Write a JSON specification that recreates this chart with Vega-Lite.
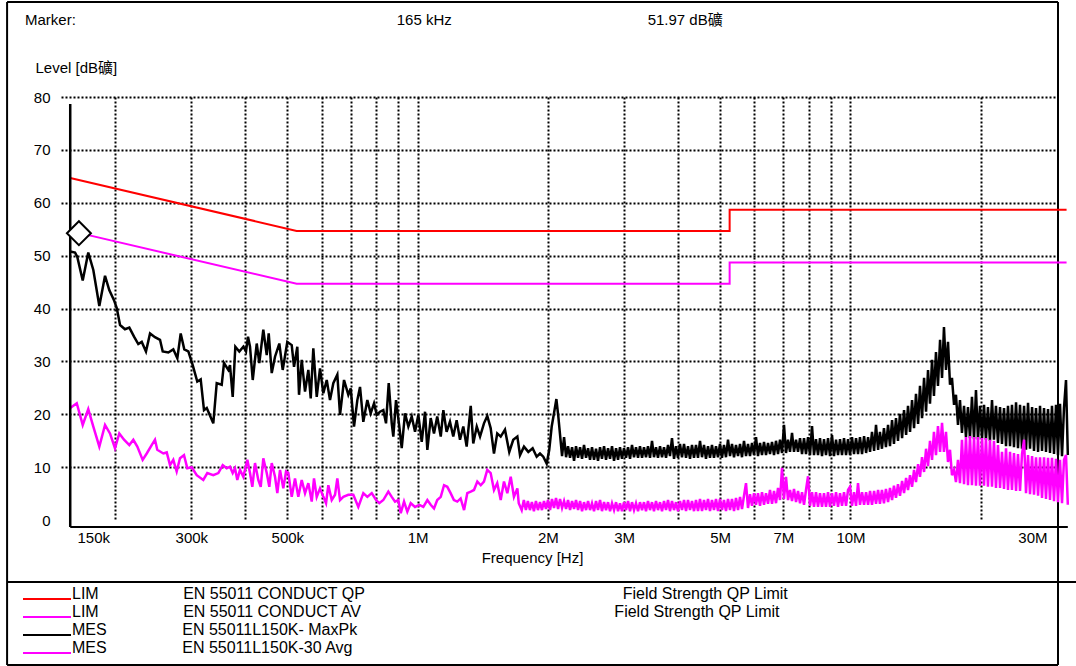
{
"$schema": "https://vega.github.io/schema/vega-lite/v6.json",
"width": 996,
"height": 423,
"autosize": "none",
"padding": {"left": 61, "top": 97, "right": 19, "bottom": 146},
"background": "white",
"config": {
  "font": "Liberation Sans, Arial, Noto Sans CJK SC, sans-serif",
  "view": {"stroke": null},
  "axis": {"labelColor": "black", "titleColor": "black", "labelFont": "Liberation Sans, Noto Sans CJK SC", "titleFont": "Liberation Sans, Noto Sans CJK SC"},
  "legend": {"labelColor": "black", "labelFont": "Liberation Sans, Noto Sans CJK SC"}
},
"title": {"text": "Marker:\u00a0\u00a0\u00a0\u00a0\u00a0\u00a0\u00a0\u00a0\u00a0\u00a0\u00a0\u00a0\u00a0\u00a0\u00a0\u00a0\u00a0\u00a0\u00a0\u00a0\u00a0\u00a0\u00a0\u00a0\u00a0\u00a0\u00a0\u00a0\u00a0\u00a0\u00a0\u00a0\u00a0\u00a0\u00a0\u00a0\u00a0\u00a0\u00a0\u00a0\u00a0\u00a0\u00a0\u00a0\u00a0\u00a0\u00a0\u00a0\u00a0\u00a0\u00a0\u00a0\u00a0\u00a0\u00a0\u00a0\u00a0\u00a0\u00a0\u00a0\u00a0\u00a0\u00a0\u00a0\u00a0\u00a0\u00a0\u00a0\u00a0\u00a0\u00a0\u00a0\u00a0\u00a0\u00a0\u00a0\u00a0165 kHz\u00a0\u00a0\u00a0\u00a0\u00a0\u00a0\u00a0\u00a0\u00a0\u00a0\u00a0\u00a0\u00a0\u00a0\u00a0\u00a0\u00a0\u00a0\u00a0\u00a0\u00a0\u00a0\u00a0\u00a0\u00a0\u00a0\u00a0\u00a0\u00a0\u00a0\u00a0\u00a0\u00a0\u00a0\u00a0\u00a0\u00a0\u00a0\u00a0\u00a0\u00a0\u00a0\u00a0\u00a0\u00a0\u00a0\u00a051.97 dB礦", "anchor": "start", "frame": "group", "dx": -36, "offset": -27, "fontSize": 15, "fontWeight": "normal", "color": "black"},
"datasets": {
  "qp": [{"f":150000,"v":66},{"f":500000,"v":56},{"f":5000000,"v":56},{"f":5000000,"v":60},{"f":30000000,"v":60}],
  "av": [{"f":150000,"v":56},{"f":500000,"v":46},{"f":5000000,"v":46},{"f":5000000,"v":50},{"f":30000000,"v":50}],
  "marker": [{"f":165000,"v":51.97}],
  "pk": [
{"f":150000,"v":52.1},{"f":153900,"v":51.9},{"f":155700,"v":51.1},{"f":160300,"v":46.6},{"f":165100,"v":51.9},{"f":169600,"v":48.6},{"f":175100,"v":41.8},{"f":180500,"v":47.5},{"f":184600,"v":44.8},{"f":189300,"v":42.9},{"f":192100,"v":41.4},{"f":195500,"v":38.2},{"f":200700,"v":37.4},{"f":205400,"v":37.7},{"f":210600,"v":36.0},{"f":215400,"v":34.6},{"f":219400,"v":35.0},{"f":224400,"v":33.2},{"f":229300,"v":36.6},{"f":235400,"v":35.9},{"f":241800,"v":35.4},{"f":245300,"v":33.2},{"f":252700,"v":33.0},{"f":259500,"v":33.6},{"f":265100,"v":31.9},{"f":269900,"v":36.6},{"f":275100,"v":33.6},{"f":281100,"v":33.2},{"f":287700,"v":30.6},{"f":294800,"v":27.5},{"f":300200,"v":27.9},{"f":305500,"v":22.1},{"f":310000,"v":22.5},{"f":321000,"v":19.6},{"f":326900,"v":27.2},{"f":335700,"v":26.9},{"f":339800,"v":31.0},{"f":347700,"v":29.7},{"f":350800,"v":30.6},{"f":355900,"v":24.6},{"f":360900,"v":34.1},{"f":368600,"v":33.2},{"f":376600,"v":34.1},{"f":382000,"v":33.2},{"f":386100,"v":36.0},{"f":390200,"v":34.1},{"f":395900,"v":27.8},{"f":404400,"v":34.7},{"f":410000,"v":31.0},{"f":418800,"v":37.3},{"f":426500,"v":32.5},{"f":431000,"v":36.6},{"f":438000,"v":29.1},{"f":445700,"v":32.2},{"f":456000,"v":34.7},{"f":464300,"v":29.7},{"f":475800,"v":35.0},{"f":487100,"v":34.4},{"f":493100,"v":30.3},{"f":501800,"v":34.1},{"f":506400,"v":25.0},{"f":513700,"v":31.6},{"f":522800,"v":25.6},{"f":532100,"v":29.7},{"f":538900,"v":24.3},{"f":546400,"v":33.8},{"f":556400,"v":24.6},{"f":566200,"v":30.0},{"f":576300,"v":25.3},{"f":586800,"v":27.8},{"f":597100,"v":24.0},{"f":607700,"v":27.2},{"f":620800,"v":28.8},{"f":629800,"v":21.2},{"f":643300,"v":27.8},{"f":658200,"v":25.0},{"f":666600,"v":26.2},{"f":678400,"v":19.0},{"f":690500,"v":24.0},{"f":700400,"v":26.5},{"f":712800,"v":19.9},{"f":728200,"v":24.0},{"f":741400,"v":21.5},{"f":754600,"v":23.4},{"f":765500,"v":21.2},{"f":779000,"v":21.8},{"f":792800,"v":22.1},{"f":804300,"v":19.6},{"f":815900,"v":27.2},{"f":829100,"v":19.6},{"f":836100,"v":17.1},{"f":848200,"v":24.0},{"f":863200,"v":19.0},{"f":874300,"v":14.9},{"f":889800,"v":21.5},{"f":905600,"v":19.0},{"f":922100,"v":20.9},{"f":938400,"v":18.0},{"f":955000,"v":21.2},{"f":972500,"v":16.1},{"f":989700,"v":21.8},
{"f":1002000,"v":14.6},{"f":1020000,"v":20.6},{"f":1038000,"v":17.7},{"f":1056000,"v":20.9},{"f":1076000,"v":17.1},{"f":1091000,"v":22.1},{"f":1110000,"v":18.0},{"f":1130000,"v":19.9},{"f":1150000,"v":17.1},{"f":1171000,"v":20.2},{"f":1192000,"v":16.5},{"f":1213000,"v":19.0},{"f":1235000,"v":15.2},{"f":1262000,"v":22.9},{"f":1279000,"v":15.8},{"f":1303000,"v":19.0},{"f":1326000,"v":17.1},{"f":1354000,"v":19.6},{"f":1378000,"v":21.0},{"f":1403000,"v":18.7},{"f":1428000,"v":13.9},{"f":1453000,"v":17.7},{"f":1480000,"v":17.1},{"f":1514000,"v":18.4},{"f":1549000,"v":14.2},{"f":1582000,"v":16.5},{"f":1617000,"v":17.1},{"f":1640000,"v":13.6},{"f":1675000,"v":15.2},{"f":1714000,"v":14.2},{"f":1754000,"v":14.9},{"f":1792000,"v":13.3},{"f":1824000,"v":13.9},{"f":1856000,"v":13.3},{"f":1890000,"v":12.0},{"f":1916000,"v":14.6},{"f":1941000,"v":19.0},{"f":1965000,"v":21.5},{"f":1990000,"v":24.2},{"f":2010000,"v":21.0},
{"f":2051000,"v":13.4},{"f":2073000,"v":17.0},{"f":2095000,"v":13.2},{"f":2117000,"v":15.3},{"f":2140000,"v":13.1},{"f":2163000,"v":15.1},{"f":2186000,"v":12.5},{"f":2209000,"v":15.3},{"f":2233000,"v":13.1},{"f":2257000,"v":15.1},{"f":2281000,"v":12.9},{"f":2305000,"v":15.5},{"f":2330000,"v":13.1},{"f":2355000,"v":14.9},{"f":2380000,"v":12.7},{"f":2405000,"v":15.1},{"f":2431000,"v":12.7},{"f":2457000,"v":14.8},{"f":2483000,"v":12.5},{"f":2510000,"v":15.1},{"f":2536000,"v":12.9},{"f":2564000,"v":15.3},{"f":2591000,"v":12.7},{"f":2619000,"v":14.9},{"f":2647000,"v":12.9},{"f":2675000,"v":15.3},{"f":2704000,"v":12.5},{"f":2733000,"v":14.9},{"f":2762000,"v":12.7},{"f":2791000,"v":15.1},{"f":2821000,"v":12.9},{"f":2851000,"v":14.9},{"f":2882000,"v":13.1},{"f":2913000,"v":15.1},{"f":2944000,"v":12.9},{"f":2975000,"v":15.5},{"f":3007000,"v":13.2},{"f":3039000,"v":15.1},{"f":3072000,"v":13.1},{"f":3104000,"v":15.3},{"f":3138000,"v":13.1},{"f":3171000,"v":15.1},{"f":3205000,"v":13.2},{"f":3239000,"v":15.3},{"f":3274000,"v":13.1},{"f":3309000,"v":16.3},{"f":3344000,"v":13.2},{"f":3380000,"v":15.1},{"f":3416000,"v":13.1},{"f":3453000,"v":15.3},{"f":3490000,"v":13.2},{"f":3527000,"v":15.1},{"f":3565000,"v":13.1},{"f":3603000,"v":15.5},{"f":3641000,"v":13.4},{"f":3680000,"v":16.8},{"f":3720000,"v":12.9},{"f":3759000,"v":15.3},{"f":3799000,"v":13.1},
{"f":3840000,"v":15.7},{"f":3881000,"v":13.2},{"f":3923000,"v":15.7},{"f":3965000,"v":13.1},{"f":4007000,"v":15.3},{"f":4050000,"v":12.9},{"f":4093000,"v":15.5},{"f":4137000,"v":13.1},{"f":4181000,"v":15.5},{"f":4226000,"v":13.1},{"f":4271000,"v":16.3},{"f":4317000,"v":13.2},{"f":4363000,"v":15.5},{"f":4409000,"v":12.9},{"f":4457000,"v":15.3},{"f":4504000,"v":13.1},{"f":4552000,"v":15.5},{"f":4601000,"v":13.1},{"f":4650000,"v":15.3},{"f":4700000,"v":13.2},{"f":4750000,"v":15.7},{"f":4801000,"v":13.1},{"f":4852000,"v":15.5},{"f":4904000,"v":13.2},{"f":4957000,"v":16.5},{"f":5010000,"v":13.4},{"f":5063000,"v":15.7},{"f":5118000,"v":13.2},{"f":5172000,"v":15.5},{"f":5228000,"v":13.4},{"f":5284000,"v":15.7},{"f":5340000,"v":13.2},{"f":5397000,"v":16.3},{"f":5455000,"v":13.4},{"f":5513000,"v":15.7},{"f":5572000,"v":13.4},{"f":5632000,"v":15.9},{"f":5692000,"v":13.6},{"f":5753000,"v":17.0},{"f":5814000,"v":13.4},{"f":5877000,"v":15.9},{"f":5939000,"v":13.6},{"f":6003000,"v":16.1},{"f":6067000,"v":13.6},{"f":6132000,"v":15.9},{"f":6197000,"v":13.8},{"f":6264000,"v":16.1},{"f":6331000,"v":13.6},{"f":6398000,"v":16.3},{"f":6467000,"v":13.8},{"f":6536000,"v":16.5},{"f":6606000,"v":14.0},{"f":6676000,"v":19.3},{"f":6748000,"v":14.0},{"f":6820000,"v":16.5},{"f":6893000,"v":14.2},{"f":6967000,"v":17.8},{"f":7041000,"v":14.2},{"f":7117000,"v":16.5},{"f":7193000,"v":14.2},
{"f":7270000,"v":16.8},{"f":7348000,"v":13.8},{"f":7426000,"v":16.8},{"f":7505000,"v":13.8},{"f":7586000,"v":17.0},{"f":7667000,"v":13.6},{"f":7749000,"v":19.1},{"f":7831000,"v":13.6},{"f":7915000,"v":16.6},{"f":8000000,"v":13.6},{"f":8085000,"v":16.8},{"f":8172000,"v":13.4},{"f":8259000,"v":16.6},{"f":8347000,"v":13.6},{"f":8437000,"v":16.8},{"f":8527000,"v":13.4},{"f":8618000,"v":17.4},{"f":8710000,"v":13.4},{"f":8804000,"v":16.5},{"f":8898000,"v":13.6},{"f":8993000,"v":16.6},{"f":9089000,"v":13.6},{"f":9186000,"v":16.8},{"f":9285000,"v":13.6},{"f":9384000,"v":16.6},{"f":9484000,"v":13.6},{"f":9585000,"v":17.0},{"f":9688000,"v":13.8},{"f":9792000,"v":16.8},{"f":9896000,"v":13.8},{"f":10000000,"v":17.0},{"f":10110000,"v":13.8},{"f":10220000,"v":17.2},{"f":10330000,"v":14.0},{"f":10440000,"v":17.0},{"f":10550000,"v":14.2},{"f":10660000,"v":18.0},{"f":10780000,"v":14.4},{"f":10890000,"v":19.3},{"f":11010000,"v":14.6},{"f":11120000,"v":18.0},{"f":11240000,"v":14.8},{"f":11360000,"v":18.7},{"f":11480000,"v":15.1},{"f":11610000,"v":19.3},{"f":11730000,"v":15.3},{"f":11860000,"v":20.2},{"f":11980000,"v":15.7},{"f":12110000,"v":20.6},{"f":12240000,"v":16.3},{"f":12370000,"v":21.4},{"f":12510000,"v":16.8},{"f":12640000,"v":22.1},{"f":12780000,"v":17.4},{"f":12910000,"v":22.9},{"f":13050000,"v":18.0},{"f":13190000,"v":24.0},{"f":13330000,"v":18.7},{"f":13470000,"v":25.2},{"f":13620000,"v":19.5},{"f":13760000,"v":26.7},{"f":13910000,"v":20.6},{"f":14060000,"v":28.2},{"f":14210000,"v":21.8},{"f":14360000,"v":29.7},{"f":14510000,"v":23.3},{"f":14670000,"v":31.6},{"f":14820000,"v":24.8},{"f":14980000,"v":33.1},{"f":15140000,"v":26.7},{"f":15310000,"v":35.4},{"f":15470000,"v":28.2},{"f":15630000,"v":37.8},{"f":15800000,"v":29.7},{"f":15970000,"v":35.0},{"f":16140000,"v":26.9},{"f":16310000,"v":28.2},{"f":16490000,"v":23.1},{"f":16660000,"v":25.0},{"f":16840000,"v":19.3},{"f":17020000,"v":24.0},{"f":17200000,"v":17.8},{"f":17390000,"v":22.9},{"f":17570000,"v":17.0},{"f":17760000,"v":22.7},{"f":17950000,"v":16.8},{"f":18140000,"v":24.6},{"f":18340000,"v":16.6},{"f":18530000,"v":25.9},{"f":18730000,"v":16.5},{"f":18930000,"v":22.9},{"f":19140000,"v":16.8},{"f":19340000,"v":23.1},{"f":19540000,"v":16.5},{"f":19750000,"v":22.7},{"f":19960000,"v":16.3},{"f":20180000,"v":24.0},{"f":20390000,"v":16.5},{"f":20610000,"v":22.9},{"f":20830000,"v":15.9},{"f":21060000,"v":22.7},{"f":21280000,"v":15.7},{"f":21510000,"v":22.5},{"f":21740000,"v":15.3},{"f":21970000,"v":22.9},{"f":22210000,"v":15.3},{"f":22440000,"v":23.1},{"f":22680000,"v":15.1},{"f":22930000,"v":23.6},{"f":23170000,"v":14.9},{"f":23420000,"v":23.1},{"f":23670000,"v":14.8},{"f":23930000,"v":22.9},{"f":24180000,"v":14.6},{"f":24440000,"v":23.5},{"f":24700000,"v":14.8},{"f":24970000,"v":22.7},{"f":25230000,"v":14.4},{"f":25500000,"v":22.5},{"f":25780000,"v":14.2},{"f":26050000,"v":22.9},{"f":26330000,"v":14.4},{"f":26610000,"v":22.5},{"f":26890000,"v":14.2},{"f":27180000,"v":22.3},{"f":27470000,"v":14.0},{"f":27760000,"v":22.9},{"f":28060000,"v":13.8},{"f":28360000,"v":23.1},{"f":28660000,"v":13.6},{"f":28970000,"v":23.3},{"f":29280000,"v":13.4},{"f":29590000,"v":22.5},{"f":29910000,"v":27.8},{"f":30200000,"v":13.6}
  ],
  "avg": [
{"f":150000,"v":22.5},{"f":155300,"v":23.4},{"f":160300,"v":19.3},{"f":165100,"v":22.3},{"f":169600,"v":19.0},{"f":175100,"v":15.2},{"f":180500,"v":19.3},{"f":185300,"v":17.7},{"f":190300,"v":14.9},{"f":194700,"v":17.7},{"f":199700,"v":16.5},{"f":205400,"v":15.5},{"f":209800,"v":16.5},{"f":214300,"v":15.2},{"f":220500,"v":12.7},{"f":225300,"v":13.9},{"f":231300,"v":15.5},{"f":235400,"v":16.5},{"f":238300,"v":14.6},{"f":246100,"v":13.9},{"f":250600,"v":14.1},{"f":255000,"v":11.7},{"f":259500,"v":12.7},{"f":264200,"v":10.5},{"f":268900,"v":13.0},{"f":274700,"v":13.6},{"f":279600,"v":11.1},{"f":286200,"v":11.3},{"f":293900,"v":9.8},{"f":304400,"v":8.9},{"f":310900,"v":10.2},{"f":321000,"v":9.8},{"f":329700,"v":10.2},{"f":337500,"v":11.7},{"f":344700,"v":11.1},{"f":350800,"v":11.4},{"f":355900,"v":10.2},{"f":360300,"v":11.1},{"f":364700,"v":8.9},{"f":370000,"v":10.8},{"f":376600,"v":9.5},{"f":384700,"v":12.7},{"f":390200,"v":10.2},{"f":395000,"v":7.6},{"f":400700,"v":12.1},{"f":407800,"v":8.9},{"f":413100,"v":7.6},{"f":418800,"v":13.0},{"f":426500,"v":10.2},{"f":432400,"v":7.6},{"f":438000,"v":12.1},{"f":445700,"v":9.5},{"f":451200,"v":6.4},{"f":457700,"v":10.8},{"f":465800,"v":7.3},{"f":472600,"v":10.5},{"f":478400,"v":10.2},{"f":487100,"v":5.7},{"f":495700,"v":9.2},{"f":504500,"v":5.7},{"f":513700,"v":8.9},{"f":522800,"v":6.4},{"f":532100,"v":8.3},{"f":541800,"v":4.8},{"f":548400,"v":9.2},{"f":556400,"v":5.7},{"f":566200,"v":7.3},{"f":576300,"v":5.7},{"f":584600,"v":4.5},{"f":591800,"v":7.9},{"f":602600,"v":5.1},{"f":613300,"v":6.1},{"f":620800,"v":9.2},{"f":629800,"v":5.1},{"f":640900,"v":5.7},{"f":658200,"v":6.1},{"f":675900,"v":6.1},{"f":694100,"v":3.8},{"f":712800,"v":6.4},{"f":728200,"v":5.7},{"f":745400,"v":6.4},{"f":762700,"v":5.1},{"f":776100,"v":4.5},{"f":792800,"v":5.1},{"f":814200,"v":6.7},{"f":829100,"v":5.7},{"f":843700,"v":4.8},{"f":858700,"v":5.1},{"f":869700,"v":2.6},{"f":885100,"v":4.8},{"f":900800,"v":2.9},{"f":917200,"v":4.5},{"f":938400,"v":3.8},{"f":960100,"v":4.2},{"f":980800,"v":3.8},
{"f":1002000,"v":5.1},{"f":1020000,"v":4.2},{"f":1038000,"v":3.5},{"f":1056000,"v":5.1},{"f":1076000,"v":5.7},{"f":1095000,"v":7.9},{"f":1114000,"v":7.6},{"f":1134000,"v":6.4},{"f":1154000,"v":5.1},{"f":1175000,"v":4.8},{"f":1196000,"v":5.4},{"f":1218000,"v":3.2},{"f":1239000,"v":6.4},{"f":1262000,"v":6.7},{"f":1284000,"v":7.0},{"f":1307000,"v":8.6},{"f":1331000,"v":7.9},{"f":1354000,"v":8.6},{"f":1378000,"v":10.8},{"f":1403000,"v":10.2},{"f":1428000,"v":7.0},{"f":1453000,"v":8.3},{"f":1480000,"v":5.1},{"f":1506000,"v":8.6},{"f":1533000,"v":6.4},{"f":1561000,"v":9.5},{"f":1588000,"v":5.7},{"f":1617000,"v":7.3},{"f":1629000,"v":4.5},{"f":1655000,"v":3.2},
{"f":1674000,"v":5.1},{"f":1692000,"v":3.2},{"f":1710000,"v":4.9},{"f":1729000,"v":3.2},{"f":1747000,"v":4.7},{"f":1766000,"v":3.0},{"f":1785000,"v":4.9},{"f":1804000,"v":3.2},{"f":1824000,"v":4.7},{"f":1843000,"v":3.2},{"f":1863000,"v":4.9},{"f":1883000,"v":3.4},{"f":1903000,"v":5.1},{"f":1924000,"v":3.2},{"f":1944000,"v":5.3},{"f":1965000,"v":3.6},{"f":1986000,"v":5.5},{"f":2008000,"v":3.4},{"f":2029000,"v":5.3},{"f":2051000,"v":3.6},{"f":2073000,"v":4.9},{"f":2095000,"v":3.4},{"f":2117000,"v":5.1},{"f":2140000,"v":3.2},{"f":2163000,"v":4.9},{"f":2186000,"v":3.4},{"f":2209000,"v":5.1},{"f":2233000,"v":3.2},{"f":2257000,"v":4.9},{"f":2281000,"v":3.0},{"f":2305000,"v":4.7},{"f":2330000,"v":3.2},{"f":2355000,"v":4.9},{"f":2380000,"v":3.2},{"f":2405000,"v":4.5},{"f":2431000,"v":3.0},{"f":2457000,"v":4.9},{"f":2483000,"v":3.2},{"f":2510000,"v":5.1},{"f":2536000,"v":3.0},{"f":2564000,"v":4.7},{"f":2591000,"v":3.2},{"f":2619000,"v":4.7},{"f":2647000,"v":3.0},{"f":2675000,"v":4.5},{"f":2704000,"v":3.2},{"f":2733000,"v":4.7},{"f":2762000,"v":3.0},{"f":2791000,"v":4.5},{"f":2821000,"v":3.0},{"f":2851000,"v":4.7},{"f":2882000,"v":3.2},{"f":2913000,"v":4.9},{"f":2944000,"v":3.0},{"f":2975000,"v":4.7},{"f":3007000,"v":3.2},{"f":3039000,"v":4.5},{"f":3072000,"v":3.0},{"f":3104000,"v":4.7},{"f":3138000,"v":3.2},{"f":3171000,"v":4.7},{"f":3205000,"v":3.0},{"f":3239000,"v":4.9},{"f":3274000,"v":3.2},{"f":3309000,"v":4.7},{"f":3344000,"v":3.0},{"f":3380000,"v":4.9},{"f":3416000,"v":3.2},{"f":3453000,"v":4.7},{"f":3490000,"v":3.0},{"f":3527000,"v":4.9},{"f":3565000,"v":3.2},{"f":3603000,"v":5.1},{"f":3641000,"v":3.0},{"f":3680000,"v":4.9},{"f":3720000,"v":3.2},{"f":3759000,"v":4.7},{"f":3799000,"v":3.0},
{"f":3840000,"v":4.9},{"f":3881000,"v":3.2},{"f":3923000,"v":5.1},{"f":3965000,"v":3.0},{"f":4007000,"v":5.1},{"f":4050000,"v":3.2},{"f":4093000,"v":4.9},{"f":4137000,"v":3.0},{"f":4181000,"v":5.1},{"f":4226000,"v":3.0},{"f":4271000,"v":5.3},{"f":4317000,"v":3.0},{"f":4363000,"v":5.1},{"f":4409000,"v":3.2},{"f":4457000,"v":5.3},{"f":4504000,"v":3.0},{"f":4552000,"v":5.1},{"f":4601000,"v":3.2},{"f":4650000,"v":5.3},{"f":4700000,"v":3.0},{"f":4750000,"v":5.3},{"f":4801000,"v":3.2},{"f":4852000,"v":5.1},{"f":4904000,"v":3.0},{"f":4957000,"v":5.3},{"f":5010000,"v":3.2},{"f":5063000,"v":5.3},{"f":5118000,"v":3.0},{"f":5172000,"v":5.5},{"f":5228000,"v":3.2},{"f":5284000,"v":5.7},{"f":5340000,"v":3.4},{"f":5397000,"v":5.9},{"f":5455000,"v":8.3},{"f":5513000,"v":3.6},{"f":5572000,"v":6.2},{"f":5632000,"v":4.0},{"f":5692000,"v":6.4},{"f":5753000,"v":4.2},{"f":5814000,"v":6.4},{"f":5877000,"v":4.0},{"f":5939000,"v":6.6},{"f":6003000,"v":4.2},{"f":6067000,"v":6.4},{"f":6132000,"v":4.4},{"f":6197000,"v":7.0},{"f":6264000,"v":4.4},{"f":6331000,"v":6.8},{"f":6398000,"v":4.5},{"f":6467000,"v":7.4},{"f":6536000,"v":5.1},{"f":6606000,"v":11.2},{"f":6676000,"v":5.3},{"f":6748000,"v":9.5},{"f":6820000,"v":5.1},{"f":6893000,"v":7.0},{"f":6967000,"v":4.9},{"f":7041000,"v":7.2},{"f":7117000,"v":4.7},{"f":7193000,"v":6.8},
{"f":7270000,"v":4.5},{"f":7348000,"v":6.6},{"f":7426000,"v":4.2},{"f":7505000,"v":7.0},{"f":7586000,"v":9.6},{"f":7667000,"v":4.0},{"f":7749000,"v":6.6},{"f":7831000,"v":3.8},{"f":7915000,"v":6.6},{"f":8000000,"v":3.8},{"f":8085000,"v":6.4},{"f":8172000,"v":3.8},{"f":8259000,"v":6.4},{"f":8347000,"v":3.8},{"f":8437000,"v":6.6},{"f":8527000,"v":3.8},{"f":8618000,"v":6.4},{"f":8710000,"v":4.0},{"f":8804000,"v":6.6},{"f":8898000,"v":3.8},{"f":8993000,"v":6.4},{"f":9089000,"v":4.0},{"f":9186000,"v":6.6},{"f":9285000,"v":4.0},{"f":9384000,"v":7.0},{"f":9484000,"v":7.6},{"f":9585000,"v":4.0},{"f":9688000,"v":6.6},{"f":9792000,"v":4.0},{"f":9896000,"v":8.3},{"f":10000000,"v":4.2},{"f":10110000,"v":6.6},{"f":10220000,"v":4.2},{"f":10330000,"v":6.6},{"f":10440000,"v":4.2},{"f":10550000,"v":6.8},{"f":10660000,"v":4.2},{"f":10780000,"v":6.8},{"f":10890000,"v":4.4},{"f":11010000,"v":7.0},{"f":11120000,"v":4.4},{"f":11240000,"v":7.0},{"f":11360000,"v":4.5},{"f":11480000,"v":7.2},{"f":11610000,"v":4.7},{"f":11730000,"v":7.4},{"f":11860000,"v":5.1},{"f":11980000,"v":7.8},{"f":12110000,"v":5.5},{"f":12240000,"v":8.1},{"f":12370000,"v":5.9},{"f":12510000,"v":8.7},{"f":12640000,"v":6.4},{"f":12780000,"v":9.3},{"f":12910000,"v":7.0},{"f":13050000,"v":9.8},{"f":13190000,"v":7.6},{"f":13330000,"v":10.8},{"f":13470000,"v":8.5},{"f":13620000,"v":11.9},{"f":13760000,"v":9.5},{"f":13910000,"v":13.2},{"f":14060000,"v":10.4},{"f":14210000,"v":14.8},{"f":14360000,"v":11.5},{"f":14510000,"v":16.3},{"f":14670000,"v":12.7},{"f":14820000,"v":18.0},{"f":14980000,"v":13.6},{"f":15140000,"v":19.1},{"f":15310000,"v":14.2},{"f":15470000,"v":19.7},{"f":15630000,"v":14.2},{"f":15800000,"v":18.0},{"f":15970000,"v":12.3},{"f":16140000,"v":14.6},{"f":16310000,"v":9.8},{"f":16490000,"v":10.8},{"f":16660000,"v":8.5},{"f":16840000,"v":12.7},{"f":17020000,"v":8.3},{"f":17200000,"v":16.5},{"f":17390000,"v":8.1},{"f":17570000,"v":17.0},{"f":17760000,"v":7.9},{"f":17950000,"v":17.2},{"f":18140000,"v":7.9},{"f":18340000,"v":17.0},{"f":18530000,"v":7.8},{"f":18730000,"v":17.0},{"f":18930000,"v":7.8},{"f":19140000,"v":16.8},{"f":19340000,"v":7.8},{"f":19540000,"v":16.8},{"f":19750000,"v":7.6},{"f":19960000,"v":16.5},{"f":20180000,"v":7.6},{"f":20390000,"v":16.3},{"f":20610000,"v":7.4},{"f":20830000,"v":15.5},{"f":21060000,"v":7.4},{"f":21280000,"v":14.2},{"f":21510000,"v":7.2},{"f":21740000,"v":14.9},{"f":21970000,"v":7.0},{"f":22210000,"v":14.2},{"f":22440000,"v":7.0},{"f":22680000,"v":14.0},{"f":22930000,"v":6.8},{"f":23170000,"v":13.8},{"f":23420000,"v":6.8},{"f":23670000,"v":13.8},{"f":23930000,"v":16.5},{"f":24180000,"v":6.4},{"f":24440000,"v":13.6},{"f":24700000,"v":6.2},{"f":24970000,"v":13.4},{"f":25230000,"v":6.1},{"f":25500000,"v":13.2},{"f":25780000,"v":5.9},{"f":26050000,"v":13.2},{"f":26330000,"v":5.5},{"f":26610000,"v":13.2},{"f":26890000,"v":5.3},{"f":27180000,"v":13.1},{"f":27470000,"v":5.1},{"f":27760000,"v":13.1},{"f":28060000,"v":4.9},{"f":28360000,"v":12.9},{"f":28660000,"v":4.7},{"f":28970000,"v":12.7},{"f":29280000,"v":4.5},{"f":29590000,"v":12.7},{"f":29910000,"v":13.6},{"f":30200000,"v":4.2}
  ]
},
"layer": [
  {
    "data": {"values": [{}]},
    "layer": [
      {"mark": {"type": "rule", "color": "black", "strokeWidth": 2},
       "encoding": {
         "x": {"datum": 112600, "type": "quantitative",
               "scale": {"type": "log", "domain": [150000, 30000000], "nice": false},
               "axis": {"values": [150000,200000,300000,400000,500000,600000,700000,800000,900000,1000000,2000000,3000000,4000000,5000000,6000000,7000000,8000000,9000000,10000000,20000000,30000000],
                        "labelExpr": "indexof([150000,300000,500000,1000000,2000000,3000000,5000000,7000000,10000000,30000000], datum.value) >= 0 ? (datum.value >= 1000000 ? (datum.value / 1000000) + 'M' : (datum.value / 1000) + 'k') : ''",
                        "labelOverlap": false, "labelFontSize": 15, "labelPadding": 10, "labelFlush": true,
                        "labelOffset": {"condition": [{"test": "datum.value == 150000", "value": 16}, {"test": "datum.value == 30000000", "value": -10}], "value": 0},
                        "domain": false, "ticks": false,
                        "grid": true, "gridColor": "black", "gridDash": [2, 2], "gridWidth": 2,
                        "gridOpacity": {"condition": {"test": "datum.value < 160000 || datum.value > 29000000", "value": 0}, "value": 1},
                        "title": "Frequency [Hz]", "titleFontSize": 15, "titleFontWeight": "normal", "titleX": 471, "titleY": 37, "titleBaseline": "middle", "titleAlign": "center"}},
         "y": {"datum": -27.42, "type": "quantitative",
               "scale": {"domain": [0, 80], "nice": false, "zero": false},
               "axis": {"values": [0,10,20,30,40,50,60,70,80], "labelFontSize": 15, "labelPadding": 11,
                        "domain": false, "ticks": false,
                        "grid": true, "gridColor": "black", "gridDash": [2, 2], "gridWidth": 2,
                        "gridOpacity": {"condition": {"test": "datum.value == 0", "value": 0}, "value": 1},
                        "title": "Level [dB礦]", "titleFontSize": 15, "titleFontWeight": "normal", "titleAngle": 0, "titleAlign": "left", "titleBaseline": "middle", "titleX": -26, "titleY": -30}},
         "y2": {"datum": 97.97}
       }},
      {"mark": {"type": "rule", "color": "black", "strokeWidth": 2},
       "encoding": {"x": {"datum": 30160000, "type": "quantitative"}, "y": {"datum": -27.42, "type": "quantitative"}, "y2": {"datum": 97.97}}},
      {"mark": {"type": "rule", "color": "black", "strokeWidth": 2},
       "encoding": {"x": {"datum": 112600, "type": "quantitative"}, "x2": {"datum": 30160000}, "y": {"datum": 97.97, "type": "quantitative"}}},
      {"mark": {"type": "rule", "color": "black", "strokeWidth": 2},
       "encoding": {"x": {"datum": 112600, "type": "quantitative"}, "x2": {"datum": 30160000}, "y": {"datum": -27.42, "type": "quantitative"}}},
      {"mark": {"type": "rule", "color": "black", "strokeWidth": 2},
       "encoding": {"x": {"datum": 112600, "type": "quantitative"}, "x2": {"datum": 33190000}, "y": {"datum": -11.73, "type": "quantitative"}}}
    ]
  },
  {
    "layer": [
      {"data": {"name": "qp"},
       "mark": {"type": "line", "strokeWidth": 2},
       "encoding": {
         "x": {"field": "f", "type": "quantitative", "scale": {"type": "log", "domain": [142817, 28511000], "nice": false}, "axis": null},
         "y": {"field": "v", "type": "quantitative", "scale": {"domain": [1.324, 81.32], "nice": false, "zero": false}, "axis": null},
         "order": {"value": null},
         "color": {"datum": "LIM EN 55011 CONDUCT QP", "type": "nominal",
                   "scale": {"domain": ["LIM EN 55011 CONDUCT QP", "LIM EN 55011 CONDUCT AV", "MES EN 55011L150K- MaxPk", "MES EN 55011L150K-30 Avg"], "range": ["#ff0000", "#ff00ff", "#000000", "#ff00ff"]},
                   "legend": {"title": null, "orient": "none", "legendX": -2, "legendY": 489, "direction": "vertical",
                              "symbolType": "M-11,1.25L1,1.25", "symbolSize": 64, "symbolStrokeWidth": 2,
                              "labelFontSize": 16, "labelLimit": 3000, "labelOffset": -3, "rowPadding": 1,
                              "labelExpr": "datum.label == 'LIM EN 55011 CONDUCT QP' ? 'LIM\u00a0\u00a0\u00a0\u00a0\u00a0\u00a0\u00a0\u00a0\u00a0\u00a0\u00a0\u00a0\u00a0\u00a0\u00a0\u00a0\u00a0\u00a0\u00a0EN 55011 CONDUCT QP\u00a0\u00a0\u00a0\u00a0\u00a0\u00a0\u00a0\u00a0\u00a0\u00a0\u00a0\u00a0\u00a0\u00a0\u00a0\u00a0\u00a0\u00a0\u00a0\u00a0\u00a0\u00a0\u00a0\u00a0\u00a0\u00a0\u00a0\u00a0\u00a0\u00a0\u00a0\u00a0\u00a0\u00a0\u00a0\u00a0\u00a0\u00a0\u00a0\u00a0\u00a0\u00a0\u00a0\u00a0\u00a0\u00a0\u00a0\u00a0\u00a0\u00a0\u00a0\u00a0\u00a0\u00a0\u00a0\u00a0\u00a0\u00a0Field Strength QP Limit' : datum.label == 'LIM EN 55011 CONDUCT AV' ? 'LIM\u00a0\u00a0\u00a0\u00a0\u00a0\u00a0\u00a0\u00a0\u00a0\u00a0\u00a0\u00a0\u00a0\u00a0\u00a0\u00a0\u00a0\u00a0\u00a0EN 55011 CONDUCT AV\u00a0\u00a0\u00a0\u00a0\u00a0\u00a0\u00a0\u00a0\u00a0\u00a0\u00a0\u00a0\u00a0\u00a0\u00a0\u00a0\u00a0\u00a0\u00a0\u00a0\u00a0\u00a0\u00a0\u00a0\u00a0\u00a0\u00a0\u00a0\u00a0\u00a0\u00a0\u00a0\u00a0\u00a0\u00a0\u00a0\u00a0\u00a0\u00a0\u00a0\u00a0\u00a0\u00a0\u00a0\u00a0\u00a0\u00a0\u00a0\u00a0\u00a0\u00a0\u00a0\u00a0\u00a0\u00a0\u00a0\u00a0Field Strength QP Limit' : datum.label == 'MES EN 55011L150K- MaxPk' ? 'MES\u00a0\u00a0\u00a0\u00a0\u00a0\u00a0\u00a0\u00a0\u00a0\u00a0\u00a0\u00a0\u00a0\u00a0\u00a0\u00a0\u00a0EN 55011L150K- MaxPk' : 'MES\u00a0\u00a0\u00a0\u00a0\u00a0\u00a0\u00a0\u00a0\u00a0\u00a0\u00a0\u00a0\u00a0\u00a0\u00a0\u00a0\u00a0EN 55011L150K-30 Avg'"}}
       }},
      {"data": {"name": "av"},
       "mark": {"type": "line", "strokeWidth": 2},
       "encoding": {"x": {"field": "f", "type": "quantitative"}, "y": {"field": "v", "type": "quantitative"}, "order": {"value": null},
                    "color": {"datum": "LIM EN 55011 CONDUCT AV", "type": "nominal"}}},
      {"data": {"name": "pk"},
       "mark": {"type": "line", "strokeWidth": 2.5},
       "encoding": {"x": {"field": "f", "type": "quantitative"}, "y": {"field": "v", "type": "quantitative"}, "order": {"value": null},
                    "color": {"datum": "MES EN 55011L150K- MaxPk", "type": "nominal"}}},
      {"data": {"name": "avg"},
       "mark": {"type": "line", "strokeWidth": 2.5},
       "encoding": {"x": {"field": "f", "type": "quantitative"}, "y": {"field": "v", "type": "quantitative"}, "order": {"value": null},
                    "color": {"datum": "MES EN 55011L150K-30 Avg", "type": "nominal"}}},
      {"data": {"values": [{}]},
       "mark": {"type": "rule", "color": "black", "strokeWidth": 2.5},
       "encoding": {"x": {"datum": 150000, "type": "quantitative"}, "y": {"datum": 0, "type": "quantitative"}, "y2": {"datum": 80}}},
      {"data": {"values": [{}]},
       "mark": {"type": "rule", "color": "black", "strokeWidth": 2},
       "encoding": {"x": {"datum": 150000, "type": "quantitative"}, "x2": {"datum": 30200000}, "y": {"datum": 0, "type": "quantitative"}}}
    ]
  },
  {
    "data": {"name": "marker"},
    "mark": {"type": "point", "shape": "diamond", "size": 576, "filled": true, "fill": "white", "stroke": "black", "strokeWidth": 2, "opacity": 1, "yOffset": -12},
    "encoding": {
      "x": {"field": "f", "type": "quantitative", "scale": {"type": "log", "domain": [150000, 30000000], "nice": false}, "axis": null},
      "y": {"field": "v", "type": "quantitative", "scale": {"domain": [0, 80], "nice": false, "zero": false}, "axis": null}
    }
  }
],
"resolve": {"scale": {"x": "independent", "y": "independent"}}
}
